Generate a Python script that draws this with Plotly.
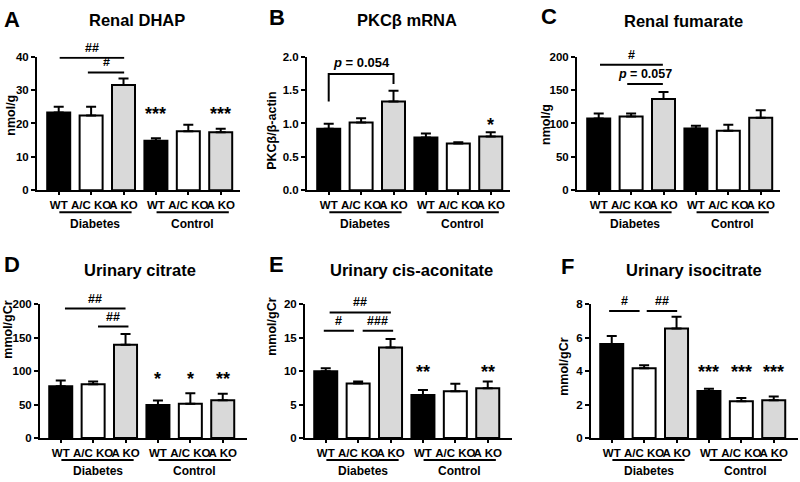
import plotly.graph_objects as go

# ---------------- data ----------------
categories = ["WT", "A/C KO", "A KO", "WT", "A/C KO", "A KO"]
group_names = ["Diabetes", "Control"]
bar_fill = ["#000000", "#ffffff", "#d9d9d9", "#000000", "#ffffff", "#d9d9d9"]

# A: Renal DHAP (nmol/g)
dhap_mean = [23.3, 22.4, 31.5, 14.8, 17.7, 17.4]
dhap_err = [1.7, 2.6, 2.0, 0.8, 1.9, 1.0]
dhap_ticks = [0, 10, 20, 30, 40]
dhap_ticktext = ["0", "10", "20", "30", "40"]
dhap_sig = [(0.03, 2.02, 39.7, "##"), (0.9, 2.02, 35.3, "#")]
dhap_stars = [(3, 24.0, "***"), (5, 24.0, "***")]

# B: PKCβ mRNA (PKCβ/β-actin)
pkc_mean = [0.92, 1.015, 1.33, 0.79, 0.70, 0.805]
pkc_err = [0.075, 0.065, 0.16, 0.06, 0.02, 0.065]
pkc_ticks = [0, 0.5, 1.0, 1.5, 2.0]
pkc_ticktext = ["0.0", "0.5", "1.0", "1.5", "2.0"]
pkc_bracket = (0, 2, 1.33, 1.74, 1.59, "<i>p</i> = 0.054")
pkc_stars = [(5, 1.04, "*")]

# C: Renal fumarate (nmol/g)
fum_mean = [107.5, 110.5, 136.5, 92.5, 89.0, 108.5]
fum_err = [7.5, 4.5, 10.5, 4.0, 9.0, 11.5]
fum_ticks = [0, 50, 100, 150, 200]
fum_ticktext = ["0", "50", "100", "150", "200"]
fum_sig = [(0.04, 1.98, 188, "#"), (0.88, 1.98, 159, "<i>p</i> = 0.057")]
fum_stars = []

# D: Urinary citrate (mmol/gCr)
cit_mean = [77.6, 80.5, 139.5, 49.3, 51.2, 56.6]
cit_err = [8.3, 3.9, 16.1, 6.7, 15.6, 9.7]
cit_ticks = [0, 50, 100, 150, 200]
cit_ticktext = ["0", "50", "100", "150", "200"]
cit_sig = [(0.13, 2.0, 193.7, "##"), (1.15, 2.09, 166.8, "##")]
cit_stars = [(3, 94, "*"), (4, 94, "*"), (5, 94, "**")]

# E: Urinary cis-aconitate (mmol/gCr)
aco_mean = [10.0, 8.15, 13.56, 6.44, 6.98, 7.46]
aco_err = [0.44, 0.29, 1.27, 0.73, 1.12, 0.98]
aco_ticks = [0, 5, 10, 15, 20]
aco_ticktext = ["0", "5", "10", "15", "20"]
aco_sig = [(0.12, 2.01, 18.8, "##"), (-0.06, 0.87, 16.05, "#"), (1.14, 2.08, 16.05, "###")]
aco_stars = [(3, 10.5, "**"), (5, 10.5, "**")]

# F: Urinary isocitrate (mmol/gCr)
iso_mean = [5.62, 4.18, 6.56, 2.81, 2.20, 2.26]
iso_err = [0.48, 0.17, 0.70, 0.14, 0.20, 0.22]
iso_ticks = [0, 2, 4, 6, 8]
iso_ticktext = ["0", "2", "4", "6", "8"]
iso_sig = [(-0.08, 0.86, 7.6, "#"), (1.08, 2.02, 7.6, "##")]
iso_stars = [(3, 4.2, "***"), (4, 4.2, "***"), (5, 4.2, "***")]

titles = ["Renal DHAP", "PKCβ mRNA", "Renal fumarate",
          "Urinary citrate", "Urinary cis-aconitate", "Urinary isocitrate"]
letters = ["A", "B", "C", "D", "E", "F"]
ytitles = ["nmol/g", "PKCβ/β-actin", "nmol/g", "mmol/gCr", "mmol/gCr", "mmol/gCr"]

# ---------------- layout geometry (pixels) ----------------
W, H = 800, 482
FONT = "Arial, Liberation Sans, sans-serif"
unit = 32.4
axis_x0 = [37, 307, 577, 40, 305, 591]
row_y0 = [189, 189, 189, 443, 443, 443]   # pixel of value 0
row_ytop = [52, 52, 52, 306, 306, 306]    # pixel of top tick
xranges = [(-0.67, 5.6)] * 3 + [(-0.64, 5.75)] * 3
title_pos = [(137, 14), (407, 14), (683, 15), (140, 271), (411, 271), (694, 271)]
letter_pos = [(2, 13.5), (267, 11.5), (539, 11), (2, 265), (267, 265), (559, 267)]
ytitle_pos = [(11.5, 112), (272, 128), (546, 122), (8, 332), (272, 329), (564, 370)]

panels = [
    dict(mean=dhap_mean, err=dhap_err, ticks=dhap_ticks, tt=dhap_ticktext, sig=dhap_sig, stars=dhap_stars),
    dict(mean=pkc_mean, err=pkc_err, ticks=pkc_ticks, tt=pkc_ticktext, sig=[], stars=pkc_stars, bracket=pkc_bracket),
    dict(mean=fum_mean, err=fum_err, ticks=fum_ticks, tt=fum_ticktext, sig=fum_sig, stars=fum_stars),
    dict(mean=cit_mean, err=cit_err, ticks=cit_ticks, tt=cit_ticktext, sig=cit_sig, stars=cit_stars),
    dict(mean=aco_mean, err=aco_err, ticks=aco_ticks, tt=aco_ticktext, sig=aco_sig, stars=aco_stars),
    dict(mean=iso_mean, err=iso_err, ticks=iso_ticks, tt=iso_ticktext, sig=iso_sig, stars=iso_stars),
]


def px_x(p):
    return p / W


def px_y(p):
    return 1 - p / H


fig = go.Figure()
layout = dict(
    width=W, height=H, margin=dict(l=0, r=0, t=0, b=0),
    paper_bgcolor="white", plot_bgcolor="white", showlegend=False,
    font=dict(family=FONT, color="black"),
)
shapes = []
annotations = []
xpos = list(range(len(categories)))

for k, p in enumerate(panels):
    n = "" if k == 0 else str(k + 1)
    xa, ya = "x" + n, "y" + n
    r0, r1 = xranges[k]
    x0 = axis_x0[k]
    x1 = x0 + (r1 - r0) * unit
    fig.add_trace(go.Bar(
        x=xpos, y=p["mean"], xaxis=xa, yaxis=ya, width=0.71,
        marker=dict(color=bar_fill, line=dict(color="black", width=2)),
        error_y=dict(type="data", array=p["err"], arrayminus=[0] * len(p["err"]),
                     symmetric=False, color="black", thickness=2, width=5),
        hoverinfo="skip",
    ))
    layout["xaxis" + n] = dict(
        domain=[px_x(x0), px_x(x1)], range=[r0, r1], anchor=ya,
        tickmode="array", tickvals=xpos, ticktext=categories, tickangle=0,
        ticks="outside", ticklen=3, tickwidth=1.5, tickcolor="black",
        showline=True, linewidth=2, linecolor="black",
        showgrid=False, zeroline=False,
        tickfont=dict(family=FONT, size=11.5, color="black", weight="bold"),
    )
    layout["yaxis" + n] = dict(
        domain=[px_y(row_y0[k]), px_y(row_ytop[k])],
        range=[p["ticks"][0], p["ticks"][-1]], anchor=xa,
        tickmode="array", tickvals=p["ticks"], ticktext=p["tt"],
        ticks="outside", ticklen=4, tickwidth=1.5, tickcolor="black",
        showline=True, linewidth=2, linecolor="black",
        showgrid=False, zeroline=False,
        tickfont=dict(family=FONT, size=11.5, color="black", weight="bold"),
    )
    # significance lines
    for (sx0, sx1, sy, lab) in p["sig"]:
        shapes.append(dict(type="line", xref=xa, yref=ya, x0=sx0, x1=sx1, y0=sy, y1=sy,
                           line=dict(color="black", width=2)))
        annotations.append(dict(xref=xa, yref=ya, x=(sx0 + sx1) / 2, y=sy, text="<b>" + lab + "</b>",
                                showarrow=False, yanchor="bottom", yshift=1,
                                font=dict(family=FONT, size=12.5, color="black")))
    if "bracket" in p:
        bx0, bx1, yl, yt, yr, lab = p["bracket"]
        shapes.append(dict(type="path", xref=xa, yref=ya,
                           path=f"M {bx0},{yl} L {bx0},{yt} L {bx1},{yt} L {bx1},{yr}",
                           line=dict(color="black", width=2)))
        annotations.append(dict(xref=xa, yref=ya, x=(bx0 + bx1) / 2, y=yt, text="<b>" + lab + "</b>",
                                showarrow=False, yanchor="bottom", yshift=2,
                                font=dict(family=FONT, size=13, color="black")))
    for (si, sy, lab) in p["stars"]:
        annotations.append(dict(xref=xa, yref=ya, x=si, y=sy, text="<b>" + lab + "</b>",
                                showarrow=False, yanchor="middle", yshift=-4,
                                font=dict(family=FONT, size=18, color="black")))
    # group lines and labels
    for g, (gx0, gx1) in enumerate([(0.02, 2.25), (3.02, 5.25)]):
        shapes.append(dict(type="line", xref=xa, yref=ya + " domain", x0=gx0, x1=gx1,
                           ysizemode="pixel", yanchor=0, y0=-22, y1=-22,
                           line=dict(color="black", width=2)))
        annotations.append(dict(xref=xa, yref=ya + " domain", x=(gx0 + gx1) / 2, y=0,
                                text="<b>" + group_names[g] + "</b>", showarrow=False,
                                yanchor="middle", yshift=-33.5,
                                font=dict(family=FONT, size=12, color="black")))
    # titles, letters, y titles
    tx, ty = title_pos[k]
    annotations.append(dict(xref="paper", yref="paper", x=px_x(tx), y=px_y(ty), text="<b>" + titles[k] + "</b>",
                            showarrow=False, xanchor="center", yanchor="middle",
                            font=dict(family=FONT, size=16.5, color="black")))
    lx, ly = letter_pos[k]
    annotations.append(dict(xref="paper", yref="paper", x=px_x(lx), y=px_y(ly), text="<b>" + letters[k] + "</b>",
                            showarrow=False, xanchor="left", yanchor="middle",
                            font=dict(family=FONT, size=22, color="black")))
    yx, yy = ytitle_pos[k]
    annotations.append(dict(xref="paper", yref="paper", x=px_x(yx), y=px_y(yy), text="<b>" + ytitles[k] + "</b>",
                            showarrow=False, xanchor="center", yanchor="middle", textangle=-90,
                            font=dict(family=FONT, size=12.5, color="black")))

layout["shapes"] = shapes
layout["annotations"] = annotations
fig.update_layout(**layout)
fig.write_html("out.html", config={"displayModeBar": False},
               post_script="document.body.style.margin='0px';document.body.style.overflow='hidden';")
